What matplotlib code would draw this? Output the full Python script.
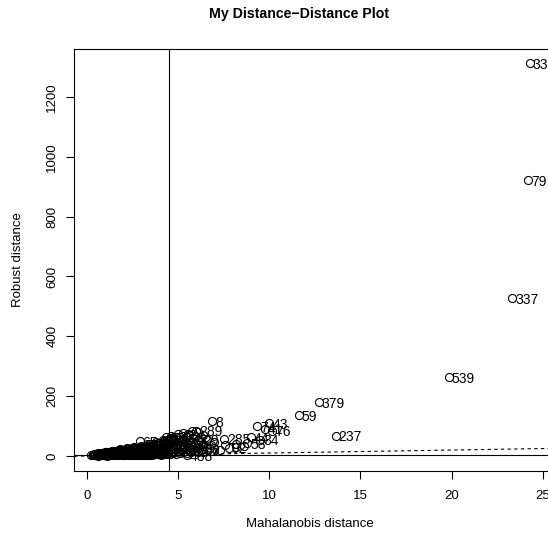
import numpy as np
import matplotlib
matplotlib.use("Agg")
import matplotlib.pyplot as plt

plt.rcParams['font.family'] = ['Liberation Sans', 'DejaVu Sans']

blob_md = [
    0.25, 0.32, 0.32, 0.40, 0.40, 0.48, 0.48, 0.48, 0.56, 0.56,
    0.64, 0.64, 0.64, 0.72, 0.72, 0.80, 0.80, 0.80, 0.88, 0.88,
    0.96, 0.96, 0.96, 1.04, 1.04, 1.04, 1.12, 1.12, 1.12, 1.20,
    1.20, 1.20, 1.28, 1.28, 1.28, 1.36, 1.36, 1.36, 1.44, 1.44,
    1.44, 1.52, 1.52, 1.52, 1.60, 1.60, 1.60, 1.68, 1.68, 1.68,
    1.68, 1.76, 1.76, 1.76, 1.84, 1.84, 1.84, 1.92, 1.92, 1.92,
    1.92, 2.00, 2.00, 2.00, 2.08, 2.08, 2.08, 2.16, 2.16, 2.16,
    2.24, 2.24, 2.24, 2.24, 2.32, 2.32, 2.32, 2.40, 2.40, 2.40,
    2.48, 2.48, 2.48, 2.48, 2.56, 2.56, 2.56, 2.64, 2.64, 2.64,
    2.72, 2.72, 2.72, 2.72, 2.80, 2.80, 2.80, 2.80, 2.88, 2.88,
    2.88, 2.96, 2.96, 2.96, 2.96, 3.04, 3.04, 3.04, 3.12, 3.12,
    3.12, 3.12, 3.20, 3.20, 3.20, 3.20, 3.28, 3.28, 3.28, 3.28,
    3.36, 3.36, 3.36, 3.36, 3.44, 3.44, 3.44, 3.44, 3.52, 3.52,
    3.52, 3.52, 3.60, 3.60, 3.60, 3.60, 3.68, 3.68, 3.68, 3.68,
    3.76, 3.76, 3.76, 3.76, 3.84, 3.84, 3.84, 3.84, 3.92, 3.92,
    3.92, 3.92, 4.00, 4.00, 4.00, 4.00, 4.08, 4.08, 4.08, 4.08,
    4.16, 4.16, 4.16, 4.16, 4.24, 4.24, 4.24, 4.24, 4.32, 4.32,
    4.32, 4.32, 4.40, 4.40, 4.40, 4.40, 4.48, 4.48, 4.48, 4.48,
    4.56, 4.56, 4.56, 4.56, 4.64, 4.64, 4.64, 4.72, 4.72, 4.72,
    4.72, 4.80, 4.80, 4.80, 4.90, 4.90, 4.90, 4.90, 5.00, 5.00,
    5.00, 5.10, 5.10, 5.10, 5.20, 5.20, 5.20, 5.30, 5.30, 5.30,
    5.30, 5.40, 5.40, 5.40, 5.50, 5.50, 5.50, 5.50, 5.60, 5.60,
    5.60, 5.60, 5.72, 5.72, 5.72, 5.84, 5.84, 5.84, 5.84, 5.96,
    5.96, 5.96, 6.10, 6.10, 6.10, 6.10, 6.25, 6.25, 6.25, 6.40,
    6.40, 6.40, 6.60, 6.60, 6.80, 6.80, 7.00, 7.00, 7.30, 7.60,
    8.20, 8.20, 8.60, 4.60, 5.00, 5.30, 5.55, 5.80, 6.10, 6.35,
    1.00, 1.40, 1.80, 2.20, 2.60, 3.00, 3.40, 3.80, 4.20, 4.60,
    0.60, 1.10, 1.60, 2.10, 2.60, 3.10, 3.60, 4.10,
]
blob_rd = [
    3, 2, 5, 3, 6, 2, 5, 8, 4, 7,
    2, 6, 9, 3, 8, 2, 5, 10, 4, 9,
    3, 7, 11, 2, 5, 12, 4, 9, 13, 3,
    7, 12, 5, 10, 14, 3, 8, 15, 4, 11,
    16, 3, 7, 13, 5, 10, 17, 3, 8, 14,
    18, 4, 12, 19, 6, 10, 16, 3, 8, 14,
    20, 5, 11, 21, 4, 9, 17, 6, 13, 22,
    3, 10, 18, 23, 5, 14, 24, 4, 8, 20,
    6, 12, 17, 26, 4, 10, 22, 7, 15, 27,
    5, 11, 19, 25, 4, 8, 16, 28, 6, 13,
    23, 5, 10, 20, 30, 7, 15, 26, 4, 12,
    22, 31, 6, 9, 18, 28, 5, 14, 24, 33,
    8, 11, 20, 30, 5, 16, 27, 35, 7, 12,
    22, 32, 6, 18, 29, 37, 9, 14, 25, 34,
    6, 20, 31, 40, 8, 13, 27, 38, 7, 17,
    33, 43, 10, 23, 36, 45, 6, 15, 29, 41,
    9, 20, 34, 48, 7, 26, 39, 51, 11, 17,
    31, 44, 8, 22, 37, 54, 10, 28, 42, 50,
    7, 19, 34, 56, 12, 25, 46, 9, 31, 40,
    58, 14, 22, 52, 8, 27, 37, 62, 16, 44,
    55, 11, 30, 64, 20, 39, 50, 13, 26, 58,
    68, 17, 35, 47, 10, 24, 42, 63, 19, 31,
    54, 70, 14, 38, 48, 22, 29, 60, 74, 16,
    44, 66, 12, 26, 36, 52, 20, 47, 62, 15,
    32, 41, 24, 55, 18, 36, 28, 46, 21, 38,
    40, 31, 35, 66, 72, 78, 74, 82, 80, 70,
    14, 18, 22, 27, 31, 35, 40, 46, 52, 60,
    1, 1, 2, 2, 3, 3, 4, 4,
]

# labelled (outlying) observations
lab_md = [2.90, 4.34, 6.00, 6.20, 6.30, 5.50, 6.86, 7.52, 7.79, 8.80,
          9.00, 9.50, 9.33, 9.75, 10.00, 10.15, 11.63, 12.72, 13.65,
          19.85, 23.34, 24.22, 24.28]
lab_rd = [50, 63, 85, 55, 22, 3, 117, 57, 27, 42,
          63, 55, 100, 92, 110, 84, 137, 180, 67,
          264, 528, 922, 1313]
lab_id = ["65", "83", "289", "29", "56", "488", "8", "285", "92", "58",
          "44", "34", "74", "41", "43", "76", "59", "379", "237",
          "539", "337", "79", "338"]

cutoff = 4.53
x_ticks = [0, 5, 10, 15, 20, 25]
y_ticks = [0, 200, 400, 600, 800, 1000, 1200]

fig = plt.figure(figsize=(5.48, 5.40), dpi=100)
ax = fig.add_axes([74.3 / 548, 69 / 540, (550 - 74.3) / 548, (471 - 49) / 540])

ax.plot(blob_md + lab_md, blob_rd + lab_rd, 'o', ms=5.8, mfc='none',
        mec='black', mew=0.8)
for xv, yv, s in zip(lab_md, lab_rd, lab_id):
    ax.annotate(s, (xv, yv), xytext=(2.2, 0), textcoords='offset points',
                ha='left', va='center_baseline', fontsize=10)

ax.axvline(cutoff, color='black', lw=0.8)
ax.axhline(cutoff, color='black', lw=0.8)
ax.axline((0, 0), slope=1, color='black', lw=0.8, ls=(0, (3, 3)))

ax.set_xlim(-0.68, 25.4)
ax.set_ylim(-50, 1360)
ax.set_xticks(x_ticks)
ax.set_yticks(y_ticks)
ax.tick_params(direction='out', length=5.5, width=0.8, labelsize=9.5)
ax.tick_params(axis='x', pad=8)
ax.tick_params(axis='y', pad=6, labelrotation=90)
for lbl in ax.get_yticklabels():
    lbl.set_va('center')
for sp in ax.spines.values():
    sp.set_linewidth(0.8)

fig.text(299 / 548, 1 - 18.3 / 540, "My Distance\u2212Distance Plot",
         ha='center', va='baseline', fontsize=10.2, fontweight='bold')
fig.text(310 / 548, 1 - 524 / 540, "Mahalanobis distance",
         ha='center', va='center', fontsize=9.5)
fig.text(18 / 548, 1 - 260 / 540, "Robust distance",
         ha='center', va='center', rotation=90, fontsize=9.5)

fig.savefig("out.png", dpi=100)
